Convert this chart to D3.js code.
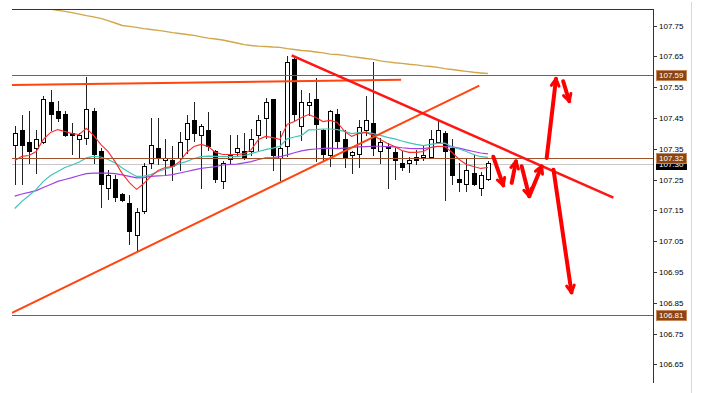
<!DOCTYPE html>
<html><head><meta charset="utf-8">
<script src="https://cdn.jsdelivr.net/npm/d3@7"></script>
<style>html,body{margin:0;padding:0;background:#fff;overflow:hidden}</style>
</head><body>
<svg id="c" width="701" height="393"></svg>
<script>
// ---- data ----
const open = [107.361,107.412,107.373,107.352,107.373,107.502,107.472,107.463,107.402,107.382,
107.384,107.473,107.341,107.223,107.252,107.204,107.174,107.071,107.149,107.304,
107.353,107.313,107.312,107.320,107.382,107.443,107.393,107.412,107.342,107.244,
107.315,107.340,107.341,107.342,107.393,107.450,107.512,107.320,107.358,107.640,
107.423,107.493,107.512,107.410,107.331,107.463,107.382,107.331,107.334,107.410,
107.432,107.342,107.360,107.340,107.304,107.304,107.323,107.324,107.324,107.371,
107.402,107.353,107.252,107.234,107.272,107.223,107.252];
const high = [107.423,107.461,107.472,107.412,107.520,107.542,107.504,107.472,107.432,107.402,
107.583,107.483,107.353,107.282,107.263,107.205,107.201,107.159,107.304,107.450,
107.450,107.382,107.358,107.404,107.461,107.502,107.429,107.469,107.347,107.309,
107.393,107.393,107.402,107.415,107.461,107.515,107.512,107.407,107.650,107.645,
107.542,107.531,107.580,107.415,107.477,107.480,107.410,107.342,107.443,107.520,
107.631,107.385,107.369,107.353,107.342,107.324,107.347,107.358,107.412,107.439,
107.407,107.382,107.304,107.315,107.331,107.274,107.309];
const low = [107.234,107.234,107.304,107.272,107.370,107.412,107.439,107.391,107.334,107.320,
107.364,107.304,107.161,107.187,107.180,107.180,107.042,107.017,107.142,107.288,
107.299,107.266,107.250,107.282,107.337,107.374,107.223,107.347,107.241,107.223,
107.304,107.328,107.315,107.331,107.347,107.385,107.282,107.250,107.326,107.443,
107.378,107.458,107.309,107.309,107.293,107.353,107.291,107.272,107.291,107.396,
107.331,107.304,107.223,107.252,107.282,107.274,107.299,107.313,107.320,107.369,
107.183,107.234,107.212,107.212,107.231,107.201,107.248];
const close = [107.402,107.361,107.341,107.382,107.512,107.463,107.450,107.393,107.393,107.393,
107.480,107.332,107.234,107.263,107.194,107.182,107.082,107.145,107.293,107.363,
107.324,107.320,107.293,107.373,107.432,107.402,107.423,107.358,107.252,107.304,
107.328,107.353,107.324,107.382,107.443,107.501,107.331,107.353,107.631,107.464,
107.501,107.501,107.429,107.334,107.472,107.374,107.324,107.340,107.421,107.443,
107.353,107.371,107.353,107.313,107.291,107.313,107.313,107.331,107.382,107.410,
107.342,107.263,107.241,107.282,107.234,107.263,107.304];

const maFast = [107.312,107.325,107.328,107.341,107.380,107.403,107.412,107.406,107.399,107.396,
107.416,107.393,107.364,107.341,107.308,107.269,107.240,107.218,107.237,107.260,
107.279,107.289,107.292,107.308,107.338,107.357,107.364,107.357,107.338,107.331,
107.331,107.331,107.334,107.347,107.380,107.390,107.386,107.380,107.429,107.438,
107.451,107.461,107.451,107.438,107.442,107.435,107.406,107.390,107.399,107.403,
107.393,107.380,107.367,107.357,107.344,107.338,107.338,107.341,107.354,107.357,
107.357,107.338,107.315,107.299,107.292,107.286,107.289];
const maMid = [107.156,107.179,107.198,107.218,107.244,107.263,107.276,107.289,107.297,107.307,
107.320,107.325,107.323,107.315,107.304,107.287,107.273,107.260,107.261,107.266,
107.276,107.284,107.291,107.302,107.309,107.318,107.324,107.326,107.325,107.324,
107.324,107.324,107.328,107.334,107.341,107.347,107.352,107.358,107.382,107.388,
107.393,107.411,107.412,107.414,107.414,107.412,107.406,107.399,107.402,107.404,
107.399,107.393,107.387,107.382,107.375,107.369,107.364,107.360,107.364,107.367,
107.368,107.356,107.349,107.341,107.331,107.324,107.322];
const maSlow = [107.196,107.203,107.208,107.214,107.224,107.234,107.244,107.250,107.256,107.263,
107.269,107.271,107.271,107.271,107.269,107.265,107.260,107.255,107.256,107.260,
107.262,107.263,107.266,107.271,107.276,107.281,107.286,107.289,107.292,107.297,
107.299,107.300,107.304,107.308,107.315,107.320,107.321,107.324,107.330,107.337,
107.343,107.347,107.349,107.351,107.352,107.350,107.352,107.354,107.356,107.357,
107.358,107.358,107.357,107.356,107.353,107.351,107.350,107.350,107.354,107.358,
107.357,107.356,107.352,107.346,107.341,107.336,107.333];
const maLong = [107.825,107.820,107.815,107.810,107.806,107.803,107.799,107.796,107.792,107.787,
107.782,107.778,107.773,107.766,107.758,107.750,107.747,107.744,107.740,107.737,
107.734,107.731,107.727,107.724,107.721,107.718,107.713,107.709,107.706,107.703,
107.698,107.693,107.688,107.685,107.683,107.682,107.680,107.679,107.675,107.672,
107.669,107.667,107.664,107.661,107.657,107.656,107.653,107.649,107.646,107.643,
107.640,107.635,107.632,107.629,107.627,107.624,107.622,107.619,107.617,107.614,
107.610,107.607,107.604,107.601,107.598,107.596,107.594];

const yTicks = [106.65,106.75,106.85,106.95,107.05,107.15,107.25,107.35,107.45,107.55,107.65,107.75];
const levelPrices = [107.59, 107.32, 106.81];
const levelLabels = ["107.59", "107.32", "106.81"];
const bidPrice = 107.30;
const bidLabel = "107.30";

// trend lines: [barIndex0, price0, barIndex1, price1]
const trendRise = [-0.38, 106.817, 64.8, 107.555];
const trendFlat = [-0.38, 107.557, 53.9, 107.574];
const trendFall = [38.63, 107.653, 83.5, 107.191];

// arrows: [fromIndex, fromPrice, toIndex, toPrice]
const arrowsData = [
  [66.75,107.324, 68.15,107.231],
  [69.32,107.239, 69.92,107.309],
  [70.71,107.293, 71.77,107.196],
  [71.77,107.196, 73.5,107.293],
  [74.2,107.320, 75.5,107.577],
  [76.5,107.569, 77.35,107.504],
  [75.15,107.282, 77.66,106.883]
];

// ---- drawing ----
const svg = d3.select("#c");
const L = 12, R = 653, T = 9, B = 383;
const x = d3.scaleLinear().domain([0, 66]).range([14.7, 487.9]);
const y = d3.scaleLinear().domain([106.65, 107.75]).range([364.3, 25.5]);

svg.append("rect").attr("width",701).attr("height",393).attr("fill","#fff");
svg.append("defs").append("clipPath").attr("id","clip")
  .append("rect").attr("x",L).attr("y",T+0.5).attr("width",R-L).attr("height",B-T);

const plot = svg.append("g").attr("clip-path","url(#clip)");

// horizontal level lines
const bidY = Math.round(y(bidPrice)) + 0.5;
plot.append("line").attr("x1",L).attr("x2",R).attr("y1",bidY).attr("y2",bidY)
  .attr("stroke","#c8c8c8").attr("stroke-width",1);

// candles
const idx = d3.range(open.length);
const cg = plot.append("g").attr("shape-rendering","crispEdges");
idx.forEach(i => {
  const cx = Math.round(x(i));
  cg.append("line").attr("x1",cx+0.5).attr("x2",cx+0.5)
    .attr("y1",Math.round(y(high[i]))).attr("y2",Math.round(y(low[i]))+1)
    .attr("stroke","#222").attr("stroke-width",1);
  const top = Math.round(y(Math.max(open[i],close[i])));
  const bot = Math.round(y(Math.min(open[i],close[i])));
  const bull = close[i] >= open[i];
  cg.append("rect").attr("x",cx-1.5).attr("y",top+0.5).attr("width",4)
    .attr("height",Math.max(bot-top,1))
    .attr("fill", bull ? "#fff" : "#000").attr("stroke","#000").attr("stroke-width",1);
});

// moving averages
const lineGen = d3.line().x((d,i)=>x(i)).y(d=>y(d)).curve(d3.curveLinear);
plot.append("path").datum(maLong).attr("d",lineGen).attr("fill","none")
  .attr("stroke","#d2a64a").attr("stroke-width",1.4);
plot.append("path").datum(maSlow).attr("d",lineGen).attr("fill","none")
  .attr("stroke","#a040e0").attr("stroke-width",1.2);
plot.append("path").datum(maMid).attr("d",lineGen).attr("fill","none")
  .attr("stroke","#40c4b8").attr("stroke-width",1.2);
plot.append("path").datum(maFast).attr("d",lineGen).attr("fill","none")
  .attr("stroke","#ff2a2a").attr("stroke-width",1.1);

// level lines (brown)
levelPrices.forEach(p => {
  const yy = Math.round(y(p)) + 0.5;
  plot.append("line").attr("x1",L).attr("x2",R).attr("y1",yy).attr("y2",yy)
    .attr("stroke","#a0522d").attr("stroke-width",1);
});

// trend lines
function tl(t, color, w) {
  plot.append("line").attr("x1",x(t[0])).attr("y1",y(t[1]))
    .attr("x2",x(t[2])).attr("y2",y(t[3]))
    .attr("stroke",color).attr("stroke-width",w).attr("stroke-linecap","butt");
}
tl(trendFlat, "#ff4510", 2);
tl(trendRise, "#ff4510", 2);
tl(trendFall, "#ff1515", 2.6);

// arrows
const ag = plot.append("g");
arrowsData.forEach(a => {
  const x0 = x(a[0]), y0 = y(a[1]), x1 = x(a[2]), y1 = y(a[3]);
  ag.append("line").attr("x1",x0).attr("y1",y0).attr("x2",x1).attr("y2",y1)
    .attr("stroke","#ff0000").attr("stroke-width",4).attr("stroke-linecap","round");
  const ang = Math.atan2(y1-y0, x1-x0);
  const hl = 8, spread = 0.5;
  [ang+Math.PI-spread, ang+Math.PI+spread].forEach(b => {
    ag.append("line").attr("x1",x1).attr("y1",y1)
      .attr("x2",x1+hl*Math.cos(b)).attr("y2",y1+hl*Math.sin(b))
      .attr("stroke","#ff0000").attr("stroke-width",3).attr("stroke-linecap","round");
  });
});

// frame
svg.append("line").attr("x1",L).attr("x2",R+0.5).attr("y1",T+0.5).attr("y2",T+0.5)
  .attr("stroke","#333").attr("stroke-width",1).attr("shape-rendering","crispEdges");
svg.append("line").attr("x1",R+0.5).attr("x2",R+0.5).attr("y1",T).attr("y2",B)
  .attr("stroke","#333").attr("stroke-width",1).attr("shape-rendering","crispEdges");
svg.append("line").attr("x1",691.5).attr("x2",691.5).attr("y1",2).attr("y2",393)
  .attr("stroke","#ecd2b8").attr("stroke-width",1).attr("shape-rendering","crispEdges");

// y axis ticks and labels
const axisG = svg.append("g").attr("font-family","'Liberation Sans', Arial, sans-serif")
  .attr("font-size","8px");
yTicks.forEach(t => {
  const yy = Math.round(y(t)) + 0.5;
  axisG.append("line").attr("x1",R+0.5).attr("x2",R+3.5).attr("y1",yy).attr("y2",yy)
    .attr("stroke","#333").attr("shape-rendering","crispEdges");
  axisG.append("text").attr("x",659).attr("y",yy).attr("dy","0.35em")
    .attr("fill","#000").text(t.toFixed(2));
});

// price labels
function priceBox(p, label, fill) {
  const yy = y(p);
  axisG.append("rect").attr("x",656.5).attr("y",Math.round(yy)-4.5).attr("width",30).attr("height",10)
    .attr("fill",fill).attr("stroke", fill === "#000" ? "#000" : "#c8875a").attr("stroke-width",1);
  axisG.append("text").attr("x",659).attr("y",Math.round(yy)+0.5).attr("dy","0.35em")
    .attr("fill","#fff").text(label);
}
priceBox(bidPrice, bidLabel, "#000");
levelPrices.forEach((p,i) => priceBox(p, levelLabels[i], "#8b4513"));
</script>
</body></html>
